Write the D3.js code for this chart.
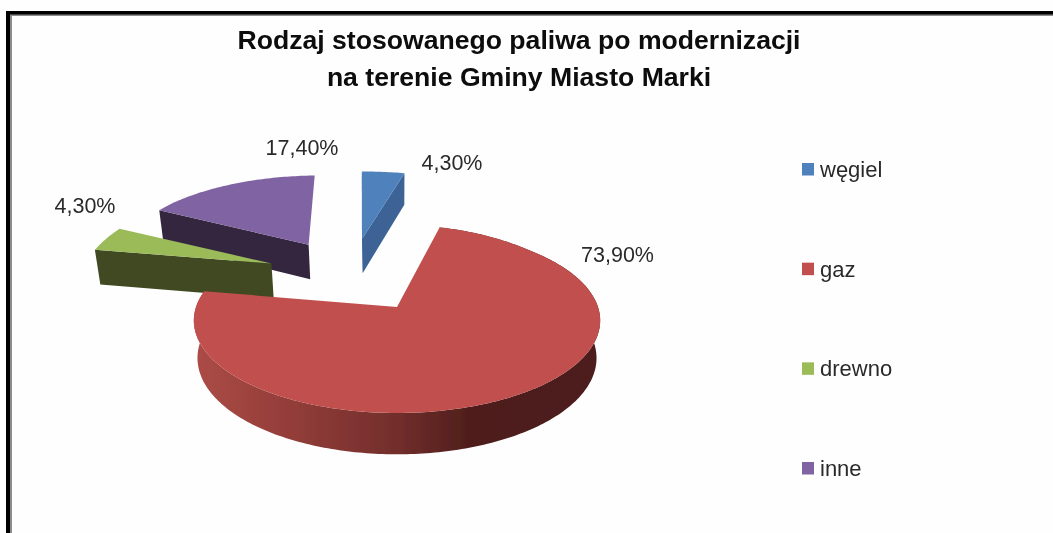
<!DOCTYPE html>
<html lang="pl">
<head>
<meta charset="utf-8">
<script src="https://cdn.jsdelivr.net/npm/d3@7/dist/d3.min.js"></script>
<style>
html,body{margin:0;padding:0;background:#fefefe;}
svg{display:block;}
text{font-family:"Liberation Sans",Arial,sans-serif;}
</style>
</head>
<body>
<svg id="chart" width="1053" height="533"></svg>
<script>
const categories = ["węgiel", "gaz", "drewno", "inne"];
const values = [4.3, 73.9, 4.3, 17.4];
const valueLabels = ["4,30%", "73,90%", "4,30%", "17,40%"];
const topColors = ["#4f81bd", "#c0504d", "#9bbb59", "#8064a2"];
const wallColors = ["#3c6496", "#c0504d", "#3f4a20", "#35263f"];
const titleLines = ["Rodzaj stosowanego paliwa po modernizacji", "na terenie Gminy Miasto Marki"];

const W = 1053, H = 533;
const svg = d3.select("#chart");
const defs = svg.append("defs");
defs.append("filter").attr("id", "soft").attr("x", "-2%").attr("y", "-2%").attr("width", "104%").attr("height", "104%")
  .append("feGaussianBlur").attr("stdDeviation", 0.45);

const root = svg.append("g").attr("filter", "url(#soft)");

// Frame
root.append("rect").attr("x", 0).attr("y", 0).attr("width", W).attr("height", H).attr("fill", "#fefefe");
root.append("rect").attr("x", 10).attr("y", 14).attr("width", W - 10).attr("height", 2).attr("fill", "#8c8c8c");
root.append("rect").attr("x", 10).attr("y", 14).attr("width", 2).attr("height", H - 14).attr("fill", "#8c8c8c");
root.append("rect").attr("x", 6).attr("y", 11).attr("width", W - 6).attr("height", 3.5).attr("fill", "#000");
root.append("rect").attr("x", 6).attr("y", 11).attr("width", 4).attr("height", H - 11).attr("fill", "#000");

// Title
const titleBaselines = [49, 86];
root.selectAll("text.title").data(titleLines).join("text").attr("class", "title")
  .attr("x", 519).attr("y", (d, i) => titleBaselines[i])
  .attr("text-anchor", "middle").attr("font-size", 26.6).attr("font-weight", "bold")
  .attr("fill", "#0a0a0a").text(d => d);

// 3D pie: the plane of the pie is projected on to the screen with perspective
const deg = Math.PI / 180;
const rotation = -1.5 * deg;
const explode = 0.45;
const persp = 0.146;
const originX = 397, originY = 307, scaleX = 201, scaleY = 90.5;
const depthBase = 37, depthPow = 0.7, bottomShrink = 0.982;

const pie = d3.pie().sort(null).startAngle(rotation).endAngle(rotation + 2 * Math.PI);
const arcs = pie(values);
const dir = a => [Math.sin(a), Math.cos(a)];
const mid = a => (a.startAngle + a.endAngle) / 2;
const anchor = dir(mid(arcs[1]));

const projX = d3.scaleLinear().domain([0, 1]).range([originX, originX + scaleX]);
const projY = d3.scaleLinear().domain([0, 1]).range([originY, originY - scaleY]);
const farLift = d3.scaleLinear().domain([0.7, 1.2]).range([0, 5]).clamp(true);

function project(u, v, bottom) {
  const w = 1 + persp * v;
  const x = projX(u / w), y = projY(v / w) - farLift(v);
  if (!bottom) return [x, y];
  return [originX + (x - originX) * bottomShrink, y + depthBase / Math.pow(w, depthPow)];
}
function planePoint(arc, angle, r) {
  const d = dir(mid(arc));
  const p = dir(angle);
  return [explode * (d[0] - anchor[0]) + r * p[0], explode * (d[1] - anchor[1]) + r * p[1]];
}
const line = d3.line();
function rim(arc, bottom) {
  const n = Math.max(6, Math.ceil((arc.endAngle - arc.startAngle) / (1 * deg)));
  return d3.range(n + 1).map(i => {
    const a = arc.startAngle + (arc.endAngle - arc.startAngle) * i / n;
    const p = planePoint(arc, a, 1);
    return project(p[0], p[1], bottom);
  });
}
function apex(arc, bottom) {
  const p = planePoint(arc, 0, 0);
  return project(p[0], p[1], bottom);
}

// Shaded outer wall of the large slice
const grad = defs.append("linearGradient").attr("id", "gasWall")
  .attr("gradientUnits", "userSpaceOnUse").attr("x1", 197).attr("x2", 598).attr("y1", 0).attr("y2", 0);
[[0, "#ab4b46"], [0.25, "#913c38"], [0.5, "#722e2b"], [0.68, "#4f1e1c"], [1, "#4d1c1b"]]
  .forEach(s => grad.append("stop").attr("offset", s[0]).attr("stop-color", s[1]));

const order = [0, 3, 2, 1];
const pieG = root.append("g");
order.forEach(i => {
  const arc = arcs[i];
  const g = pieG.append("g");
  const top = rim(arc, false), bot = rim(arc, true);
  const aT = apex(arc, false), aB = apex(arc, true);
  const wall = i === 1 ? "url(#gasWall)" : wallColors[i];
  // only radial walls that face the viewer are painted
  if (i !== 1) {
    if (Math.cos(arc.startAngle - Math.PI / 2) < 0)
      g.append("path").attr("d", line([aT, top[0], bot[0], aB]) + "Z").attr("fill", wall);
    if (Math.cos(arc.endAngle + Math.PI / 2) < 0)
      g.append("path").attr("d", line([aT, top[top.length - 1], bot[bot.length - 1], aB]) + "Z").attr("fill", wall);
  }
  if (i === 1) g.append("path").attr("d", line(top.concat(bot.slice().reverse())) + "Z").attr("fill", wall);
  g.append("path").attr("d", line([aT].concat(top)) + "Z").attr("fill", topColors[i]);
});

// Data labels
const labelPos = [[452, 170], [617.5, 262], [85, 213], [302, 155]];
root.selectAll("text.val").data(valueLabels).join("text").attr("class", "val")
  .attr("x", (d, i) => labelPos[i][0]).attr("y", (d, i) => labelPos[i][1])
  .attr("text-anchor", "middle").attr("font-size", 21.5).attr("fill", "#2a2a2a").text(d => d);

// Legend
const legendY = d3.scalePoint().domain(categories).range([163, 462]);
const legend = root.selectAll("g.leg").data(categories).join("g").attr("class", "leg");
legend.append("rect").attr("x", 802).attr("y", d => legendY(d)).attr("width", 12).attr("height", 12.5)
  .attr("fill", (d, i) => topColors[i]);
legend.append("text").attr("x", 820).attr("y", d => legendY(d) + 14)
  .attr("font-size", 22).attr("fill", "#2a2a2a").text(d => d);
</script>
</body>
</html>
